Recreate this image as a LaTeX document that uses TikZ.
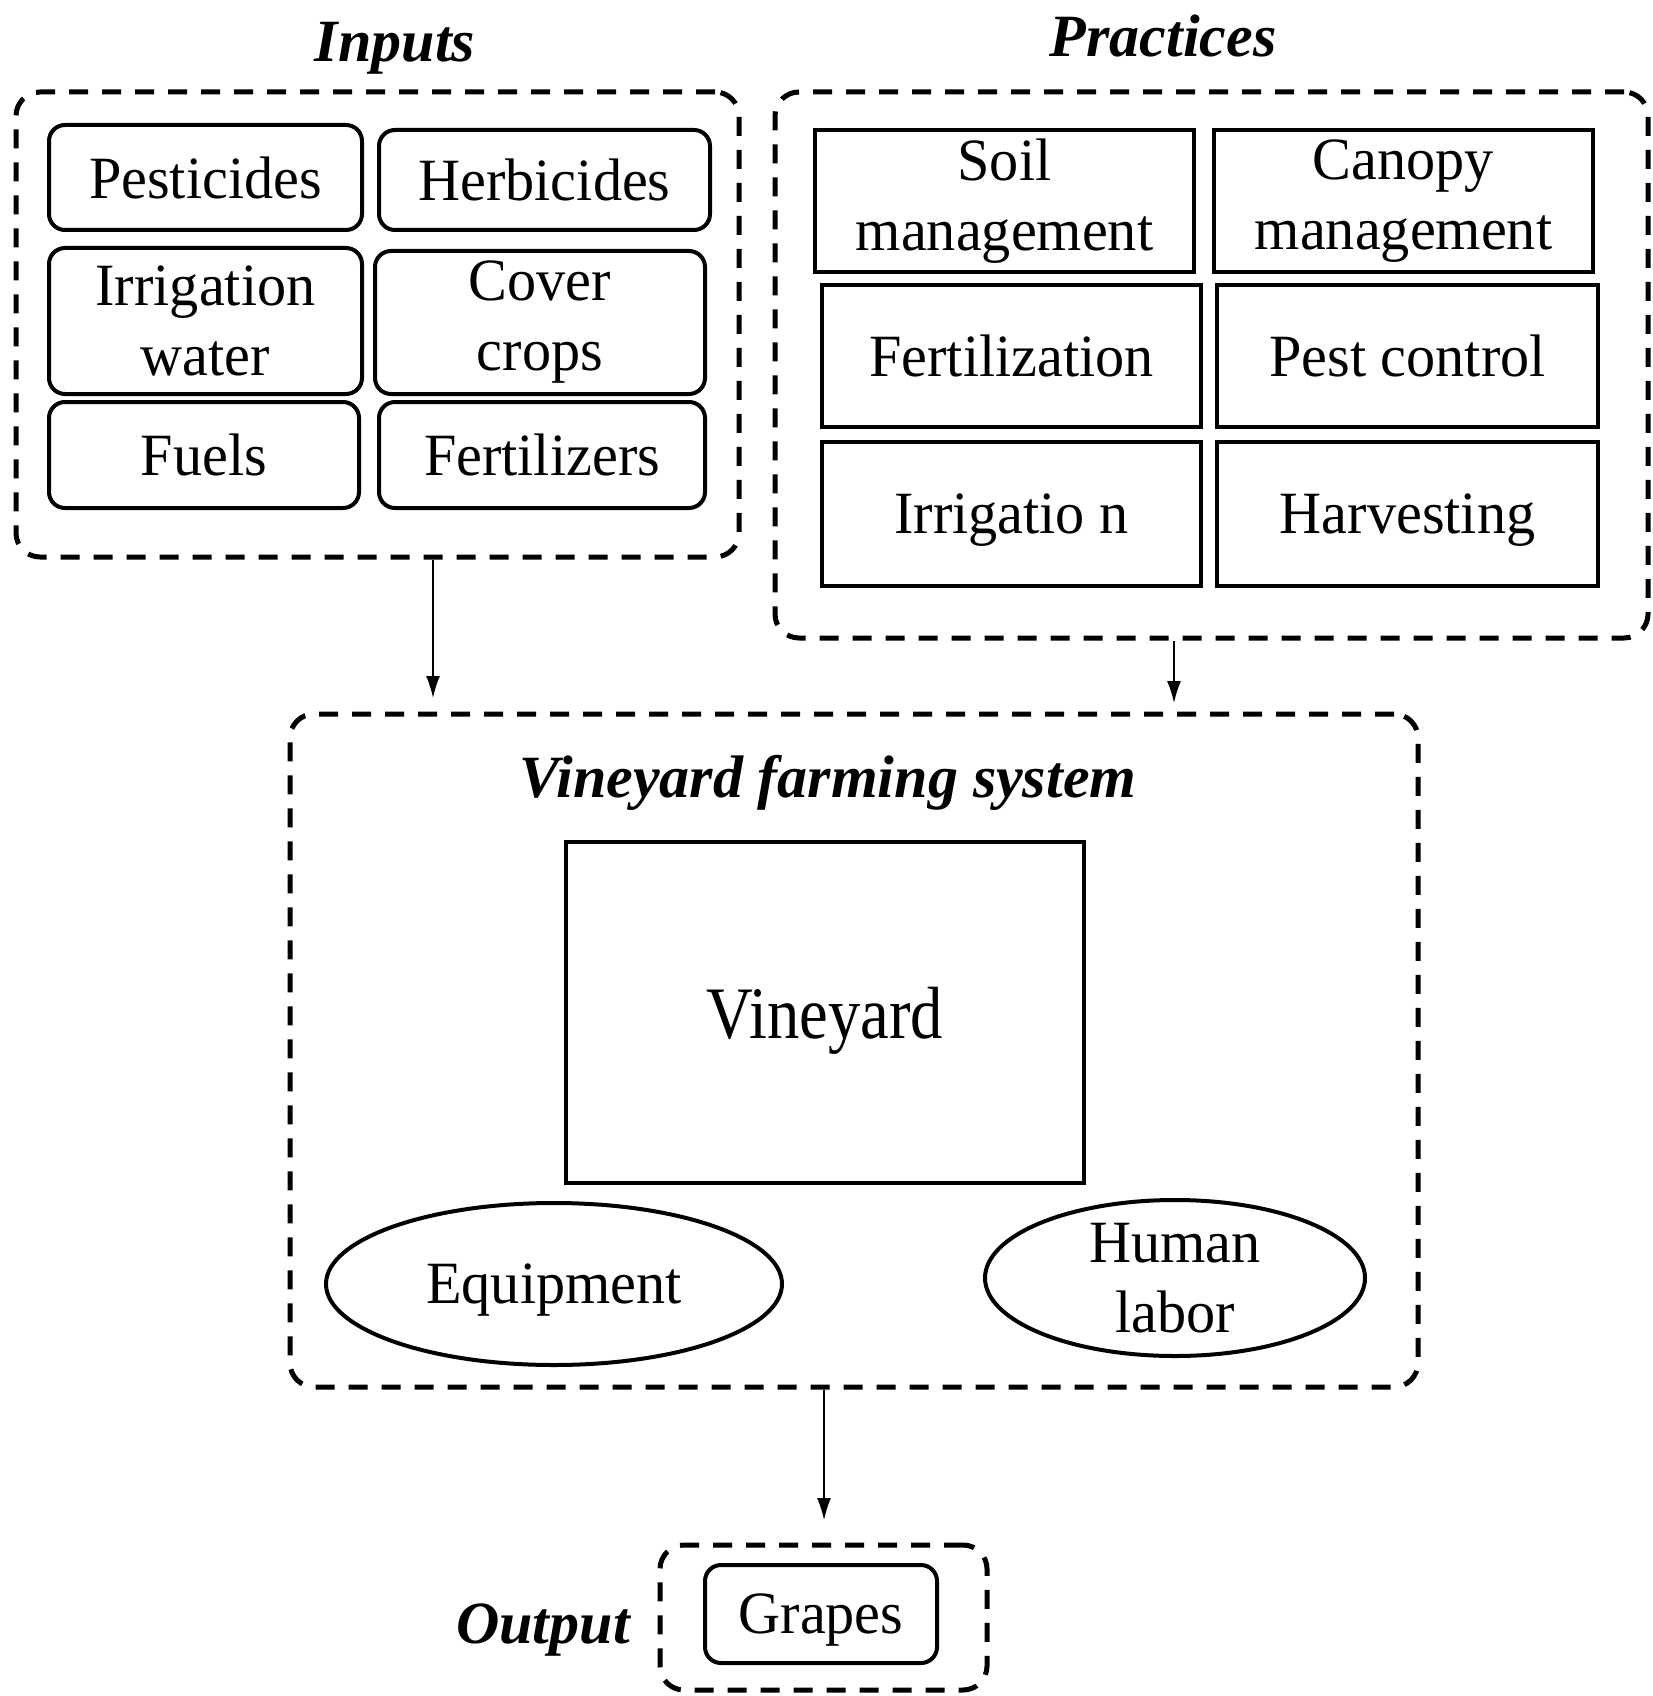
\documentclass[tikz,border=0pt]{standalone}
\usepackage{fontspec}
\usepackage{graphicx}
\setmainfont{Liberation Serif}
\newfontfamily\bodyfam[FakeStretch=0.97]{Liberation Serif}
\usetikzlibrary{arrows.meta,shapes.geometric}
\newcommand\bodyf{\bodyfam\fontsize{30}{35}\selectfont}
\newcommand\ttlf{\fontsize{30}{35}\selectfont\bfseries\itshape}
\tikzset{
  rbox/.style={draw, line width=2pt, rounded corners=8pt, inner sep=0pt, align=center, font=\bodyf},
  sbox/.style={draw, line width=2pt, inner sep=0pt, align=center, font=\bodyf},
  dbox/.style={draw, line width=2.5pt, dash pattern=on 9.5pt off 7pt, rounded corners=12pt, inner sep=0pt},
  ebox/.style={draw, ellipse, line width=2pt, inner sep=0pt, align=center, font=\bodyf},
  nd/.style={text depth=0pt},
  ttl/.style={font=\ttlf, anchor=base, inner sep=0pt},
  arr/.style={-{Latex[length=11pt,width=7pt]}, line width=0.8pt},
}
\begin{document}
\begin{tikzpicture}[x=0.5pt, y=-0.5pt]
\useasboundingbox (0,0) rectangle (1653,1696);
% containers
\node[dbox, minimum width=361.5pt, minimum height=232.5pt] (inputs) at (377.5,324.5) {};
\node[dbox, minimum width=436.5pt, minimum height=273pt] (practices) at (1211.5,365) {};
\node[dbox, minimum width=564pt, minimum height=336.5pt] (vfs) at (854,1050.5) {};
\node[dbox, minimum width=163.5pt, minimum height=72.5pt] (outbox) at (823.5,1617.5) {};
% titles
\node[ttl] (tin) at (395,62) {Inputs};
\node[ttl] (tpr) at (1163,57) {Practices};
\node[ttl] (tvfs) at (828,797) {Vineyard farming system};
\node[ttl] (tout) at (543,1643) {Output};
% inputs
\node[rbox, nd, minimum width=156.5pt, minimum height=52.5pt] (pest) at (205.5,177.5) {Pesticides};
\node[rbox, nd, minimum width=165.5pt, minimum height=50pt] (herb) at (544.5,180) {Herbicides};
\node[rbox, minimum width=156.5pt, minimum height=73pt] (irrw) at (205.5,321) {Irrigation\\water};
\node[rbox, minimum width=165pt, minimum height=71.5pt] (cover) at (540,322.5) {Cover\\crops};
\node[rbox, nd, minimum width=155pt, minimum height=53pt] (fuels) at (204,455) {Fuels};
\node[rbox, nd, minimum width=163pt, minimum height=53pt] (fertz) at (542,455) {Fertilizers};
% practices
\node[sbox, minimum width=189.5pt, minimum height=71pt] (soil) at (1004.5,201) {Soil\\management};
\node[sbox, minimum width=189.5pt, minimum height=71pt] (canopy) at (1403.5,201) {Canopy\\management};
\node[sbox, nd, minimum width=189.5pt, minimum height=71pt] (fert) at (1011.5,356) {Fertilization};
\node[sbox, nd, minimum width=190.5pt, minimum height=71pt] (pc) at (1407.5,356) {Pest control};
\node[sbox, nd, minimum width=189.5pt, minimum height=72pt] (irr) at (1011.5,514) {Irrigatio n};
\node[sbox, nd, minimum width=190.5pt, minimum height=72pt] (harv) at (1407.5,514) {Harvesting};
% system
\node[sbox, nd, minimum width=259pt, minimum height=170.5pt, font=\bodyfam\fontsize{37}{40}\selectfont] (vine) at (825,1012.5) {\scalebox{0.9}[1]{Vineyard}};
\node[ebox, nd, minimum width=228pt, minimum height=81pt] (equip) at (554,1284) {Equipment};
\node[ebox, minimum width=190pt, minimum height=78pt] (labor) at (1175,1278) {Human\\labor};
% output
\node[rbox, nd, minimum width=116pt, minimum height=49pt] (grapes) at (821,1614) {Grapes};
% arrows
\coordinate (t1) at (433,698);
\coordinate (t2) at (1174,703);
\coordinate (t3) at (824,1520);
\draw[arr] (inputs.south -| t1) -- (t1);
\draw[arr] (practices.south -| t2) -- (t2);
\draw[arr] (vfs.south -| t3) -- (t3);
\end{tikzpicture}
\end{document}
